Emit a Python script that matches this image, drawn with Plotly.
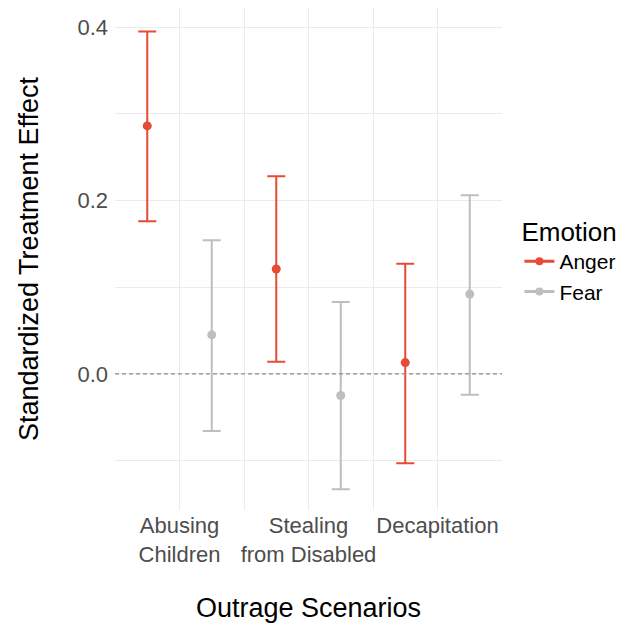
import plotly.graph_objects as go

scenarios = ["Abusing<br>Children", "Stealing<br>from Disabled", "Decapitation"]
emotions = ["Anger", "Fear"]
anger_est = [0.286, 0.121, 0.013]
anger_lo = [0.176, 0.014, -0.103]
anger_hi = [0.395, 0.228, 0.127]
fear_est = [0.045, -0.025, 0.092]
fear_lo = [-0.066, -0.133, -0.024]
fear_hi = [0.154, 0.083, 0.206]

colors = {"Anger": "#E64B35", "Fear": "#BEBEBE"}
dodge = {"Anger": -0.25, "Fear": 0.25}
data = {"Anger": (anger_est, anger_lo, anger_hi), "Fear": (fear_est, fear_lo, fear_hi)}

font = "Liberation Sans, Arial, sans-serif"
fig = go.Figure()
for emo in emotions:
    est, lo, hi = data[emo]
    xs = [i + 1 + dodge[emo] for i in range(len(est))]
    fig.add_trace(go.Scatter(
        x=xs, y=est, mode="markers", name=emo, showlegend=False,
        marker=dict(color=colors[emo], size=9),
        error_y=dict(type="data", symmetric=False,
                     array=[h - e for h, e in zip(hi, est)],
                     arrayminus=[e - l for e, l in zip(est, lo)],
                     color=colors[emo], thickness=2, width=9),
    ))
for emo in emotions:
    fig.add_trace(go.Scatter(
        x=[None], y=[None], mode="lines+markers", name=emo,
        marker=dict(color=colors[emo], size=8),
        line=dict(color=colors[emo], width=3),
    ))

fig.add_shape(type="line", xref="paper", x0=0, x1=1, yref="y", y0=0, y1=0,
              line=dict(color="#8c8c8c", width=1.3, dash="4px,3px"), layer="above")

fig.update_layout(
    width=629, height=626,
    margin=dict(l=107, r=135, t=0, b=124),
    plot_bgcolor="white", paper_bgcolor="white",
    font=dict(family=font, size=22, color="#4d4d4d"),
    xaxis=dict(
        range=[0.5, 3.5], tickvals=[1, 2, 3], ticktext=scenarios,
        showgrid=True, gridcolor="#ebebeb", gridwidth=1,
        minor=dict(tickvals=[0.5, 1.5, 2.5, 3.5], showgrid=True, gridcolor="#ebebeb", gridwidth=1),
        zeroline=False, showline=False, ticks="", tickangle=0,
        tickfont=dict(size=22, color="#4d4d4d"),
        title=dict(text="Outrage Scenarios", font=dict(size=27, color="black"), standoff=32),
    ),
    yaxis=dict(
        range=[-0.157, 0.422], tickvals=[0, 0.2, 0.4], ticktext=["0.0", "0.2", "0.4"],
        showgrid=True, gridcolor="#ebebeb", gridwidth=1,
        minor=dict(tickvals=[-0.1, 0.1, 0.3], showgrid=True, gridcolor="#ebebeb", gridwidth=1),
        zeroline=False, showline=False, ticks="",
        ticklabelstandoff=6,
        tickfont=dict(size=22, color="#4d4d4d"),
        title=dict(text="Standardized Treatment Effect", font=dict(size=27, color="black"), standoff=30),
    ),
    legend=dict(
        title=dict(text="Emotion", font=dict(size=26, color="black")),
        font=dict(size=21, color="black"),
        x=1.045, y=0.603, xanchor="left", yanchor="top",
        tracegroupgap=0, itemwidth=30,
    ),
)

fig.write_html("out.html")
